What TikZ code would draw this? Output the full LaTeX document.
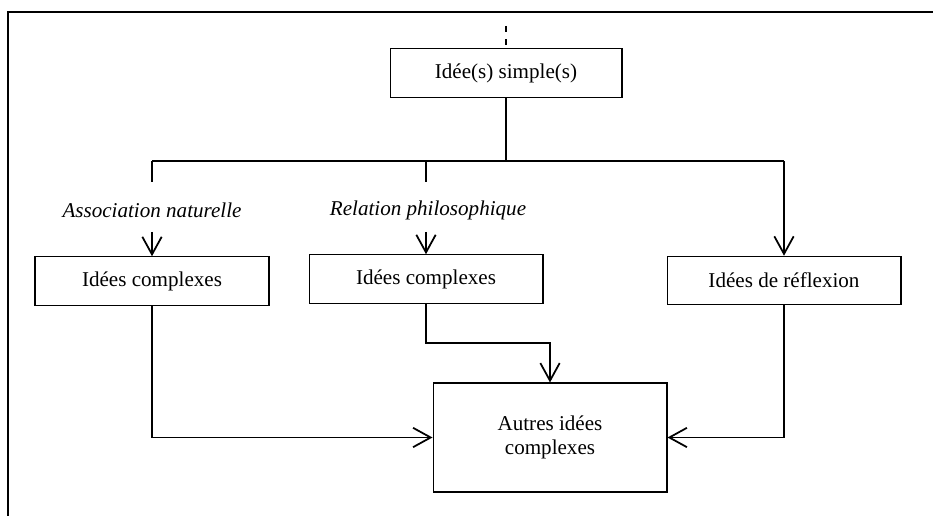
\documentclass[tikz,border=0pt]{standalone}
\usepackage{fontspec}
\setmainfont{Liberation Serif}
\usetikzlibrary{arrows.meta,positioning}
\tikzset{
ideabox/.style={
  draw=black,
  line width=0.6pt,
  inner sep=0pt,
  minimum width=4.68cm,
  minimum height=0.97cm,
  align=center,
  font=\fontsize{12}{13.8}\selectfont,
  }
}
\tikzset{
myline/.style={
  line width=1pt,
  }
}
\tikzset{
myarrow/.style={
  myline,
  -{Straight Barb[length=10pt,width=11pt]}
  }
}
\tikzset{
rellabel/.style={
  inner sep=0pt,
  font=\fontsize{12}{13.8}\selectfont\itshape,
  }
}

\begin{document}
\begin{tikzpicture}[x=0.02cm,y=-0.02cm]
    \useasboundingbox (0,0) rectangle (933,516);
    \draw[line width=1.2pt] (933,12) -- (8,12) -- (8,516);
    % boxes
    \node[ideabox, minimum width=4.64cm] (simple) at (506,73) {Idée(s) simple(s)};
    \node[ideabox] (cplxL) at (152,281) {Idées complexes};
    \node[ideabox] (cplxM) at (426,279) {Idées complexes};
    \node[ideabox] (reflex) at (784,280.5) {Idées de réflexion};
    \node[ideabox, minimum height=2.18cm] (autres) at (550,437.5) {Autres idées\\complexes};
    % labels
    \node[rellabel] (assoc) at (152,210) {Association naturelle};
    \node[rellabel] (relphil) at (428,210) {Relation philosophique};
    % points
    \coordinate (top) at (506,26);
    \coordinate (split) at (506,161);
    \coordinate (splitL) at (152,161);
    \coordinate (splitM) at (426,161);
    \coordinate (splitR) at (784,161);
    \coordinate (stubL) at (152,182);
    \coordinate (stubM) at (426,182);
    \coordinate (arrL) at (152,232);
    \coordinate (arrM) at (426,232);
    \coordinate (bendM) at (426,343);
    % connectors
    \draw[myline, dash pattern=on 3.5pt off 4pt] (top) -- (simple);
    \draw[myline] (simple) -- (split);
    \draw[myline] (splitL) -- (splitR);
    \draw[myline] (splitL) -- (stubL);
    \draw[myline] (splitM) -- (stubM);
    \draw[myarrow] (arrL) -- (cplxL);
    \draw[myarrow] (arrM) -- (cplxM);
    \draw[myarrow] (splitR) -- (reflex);
    \draw[myarrow] (cplxL) |- (autres);
    \draw[myarrow] (cplxM) -- (bendM) -| (autres);
    \draw[myarrow] (reflex) |- (autres);
\end{tikzpicture}
\end{document}
